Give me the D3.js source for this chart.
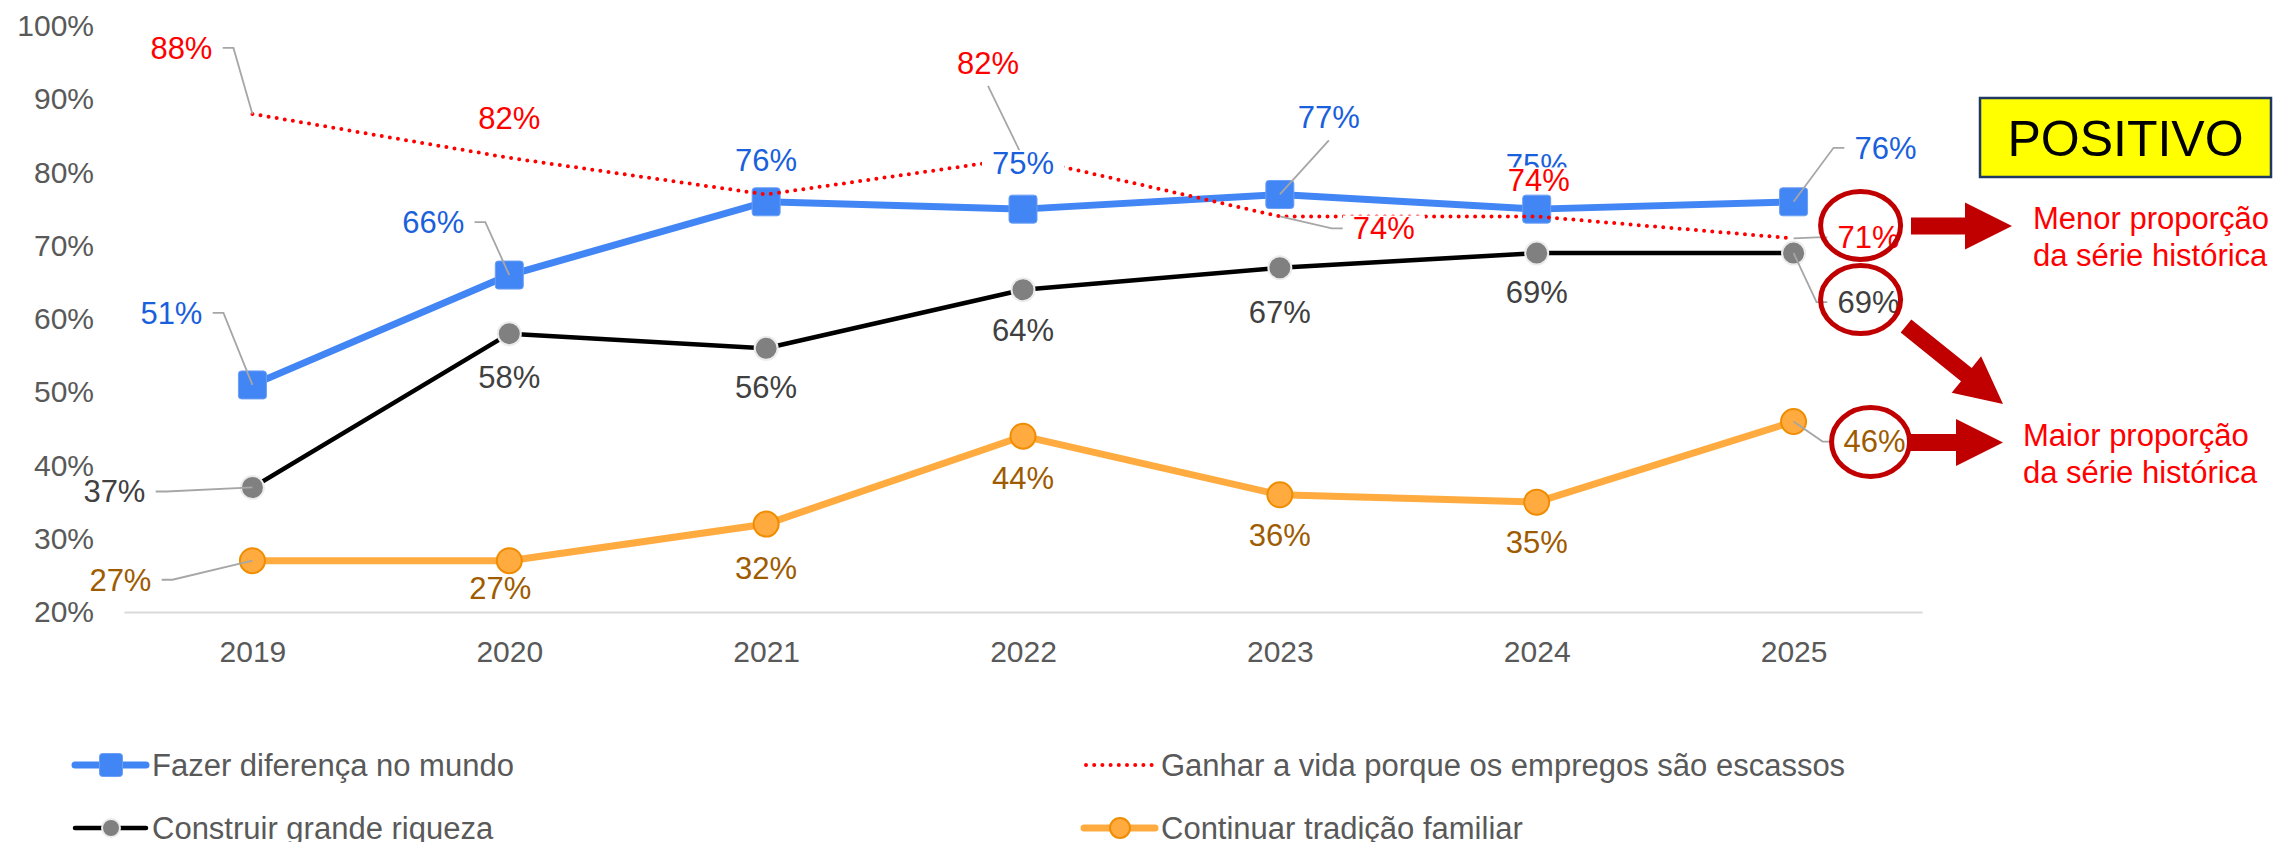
<!DOCTYPE html>
<html>
<head>
<meta charset="utf-8">
<script src="https://cdn.jsdelivr.net/npm/d3@7"></script>
<style>
  body { margin: 0; background: #fff; }
  svg { display: block; font-family: "Liberation Sans", Arial, sans-serif; }
</style>
</head>
<body>
<svg id="chart"></svg>
<script>
/* Data */
const years = ["2019", "2020", "2021", "2022", "2023", "2024", "2025"]
const fazerDiferenca = [51, 66, 76, 75, 77, 75, 76]
const ganharVida = [88, 82, 77, 82, 74, 74, 71]
const construirRiqueza = [37, 58, 56, 64, 67, 69, 69]
const continuarTradicao = [27, 27, 32, 44, 36, 35, 46]
const yTicks = [20, 30, 40, 50, 60, 70, 80, 90, 100]
const seriesNames = [
  "Fazer diferença no mundo",
  "Ganhar a vida porque os empregos são escassos",
  "Construir grande riqueza",
  "Continuar tradição familiar"
]
/* Unlabelled point in 2021 for the red series */
const ganharLabelShown = [true, true, false, true, true, true, true]

/* Label placement: offset from the point and leader line side */
const blueLabelPos = [[-81, -72, "L"], [-76, -53, "L"], [0, -42], [0, -46], [49, -77, "B"], [0, -44], [92, -54, "R"]]
const redLabelPos = [[-71, -66, "L"], [0, -40], [0, 0], [-35, -95, "B"], [104, 12, "R"], [2, -36], [75, -1, "R"]]
const blackLabelPos = [[-138, 4, "L"], [0, 43], [0, 39], [0, 40], [0, 44], [0, 39], [75, 49, "R"]]
const orangeLabelPos = [[-132, 19, "L"], [-9, 27], [0, 44], [0, 42], [0, 40], [0, 40], [81, 20, "R"]]

const width = 2279, height = 842

const svg = d3.select("#chart")
  .attr("width", width)
  .attr("height", height)

const x = d3.scalePoint().domain(years).range([124, 1922]).padding(0.5)
const y = d3.scaleLinear().domain([20, 100]).range([612, 26])

/* Axes */
const yAxis = svg.append("g")
  .attr("transform", "translate(94,0)")
  .call(d3.axisLeft(y).tickValues(yTicks).tickFormat(d => d + "%").tickSize(0).tickPadding(0))
yAxis.select(".domain").remove()
yAxis.selectAll("text").attr("fill", "#595959").style("font-size", "30px")

const xAxis = svg.append("g")
  .attr("transform", "translate(0,612)")
  .call(d3.axisBottom(x).tickSize(0).tickSizeOuter(0).tickPadding(29))
xAxis.select(".domain").attr("stroke", "#d9d9d9").attr("stroke-width", 2)
xAxis.selectAll("text").attr("fill", "#595959").style("font-size", "30px")

/* Series definitions */
const series = [
  { name: seriesNames[0], values: fazerDiferenca, color: "#4285f4", width: 7, marker: "square",
    labelColor: "#1a5fdc", pos: blueLabelPos },
  { name: seriesNames[1], values: ganharVida, color: "#ff0000", width: 4, marker: "none", dotted: true,
    labelColor: "#ff0000", pos: redLabelPos, shown: ganharLabelShown },
  { name: seriesNames[2], values: construirRiqueza, color: "#000000", width: 4.5, marker: "gray",
    labelColor: "#404040", pos: blackLabelPos },
  { name: seriesNames[3], values: continuarTradicao, color: "#ffab40", width: 7, marker: "orange",
    labelColor: "#9e5b00", pos: orangeLabelPos }
]

const line = d3.line()
  .x((d, i) => x(years[i]))
  .y(d => y(d))

function drawMarker(g, type, cx, cy, size) {
  if (type === "square") {
    g.append("rect")
      .attr("x", cx - size / 2).attr("y", cy - size / 2)
      .attr("width", size).attr("height", size)
      .attr("rx", 3)
      .attr("fill", "#4285f4").attr("stroke", "#6b9ff5").attr("stroke-width", 1)
  } else if (type === "gray") {
    g.append("circle")
      .attr("cx", cx).attr("cy", cy).attr("r", size / 2)
      .attr("fill", "#808080").attr("stroke", "#ececec").attr("stroke-width", 2)
  } else if (type === "orange") {
    g.append("circle")
      .attr("cx", cx).attr("cy", cy).attr("r", size / 2)
      .attr("fill", "#ffab40").attr("stroke", "#f08c00").attr("stroke-width", 2)
  }
}

const markerSize = { square: 28, gray: 23, orange: 25 }

/* Lines and markers: blue, black, orange, then dotted red on top */
const plot = svg.append("g")
;[0, 2, 3, 1].forEach(si => {
  const s = series[si]
  const path = plot.append("path")
    .datum(s.values)
    .attr("d", line)
    .attr("fill", "none")
    .attr("stroke", s.color)
    .attr("stroke-width", s.width)
    .attr("stroke-linejoin", "round")
  if (s.dotted) {
    path.attr("stroke-dasharray", "0 8.2").attr("stroke-linecap", "round")
  }
  s.values.forEach((v, i) => drawMarker(plot, s.marker, x(years[i]), y(v), markerSize[s.marker]))
})

/* Data labels with leader lines */
const leaders = svg.append("g")
const labels = svg.append("g")

series.forEach(s => {
  s.values.forEach((v, i) => {
    if (s.shown && !s.shown[i]) return
    const p = s.pos[i]
    const px = x(years[i]), py = y(v)
    const lx = px + p[0], ly = py + p[1]

    const g = labels.append("g")
    const box = g.append("rect").attr("fill", "#fff")
    const t = g.append("text")
      .attr("x", lx).attr("y", ly).attr("dy", "0.35em")
      .attr("text-anchor", "middle")
      .attr("fill", s.labelColor)
      .style("font-size", "31px")
      .text(v + "%")
    const w = t.node().getComputedTextLength()
    box.attr("x", lx - w / 2 - 10).attr("y", ly - 13)
      .attr("width", w + 20).attr("height", 26)

    let pts = null
    if (p[2] === "L") {
      const e = lx + w / 2
      pts = [[e + 10, ly], [e + 21, ly], [px, py]]
    } else if (p[2] === "R") {
      const e = lx - w / 2
      pts = [[e - 10, ly], [e - 21, ly], [px, py]]
    } else if (p[2] === "B") {
      pts = [[lx, ly + 23], [px, py]]
    }
    if (pts) {
      leaders.append("path")
        .attr("d", d3.line()(pts))
        .attr("fill", "none")
        .attr("stroke", "#a6a6a6")
        .attr("stroke-width", 1.8)
    }
  })
})

/* Annotations: circles around 2025 labels and arrows */
const notes = svg.append("g")
const last = years[years.length - 1]
const rings = [
  { v: ganharVida[6], dx: 67, dy: -13, rx: 40, ry: 34 },
  { v: construirRiqueza[6], dx: 67, dy: 46.5, rx: 40, ry: 34 },
  { v: continuarTradicao[6], dx: 77, dy: 20.5, rx: 39, ry: 34.5 }
]
rings.forEach(r => {
  notes.append("ellipse")
    .attr("cx", x(last) + r.dx).attr("cy", y(r.v) + r.dy)
    .attr("rx", r.rx).attr("ry", r.ry)
    .attr("fill", "none")
    .attr("stroke", "#c00000")
    .attr("stroke-width", 5)
})

function arrow(x0, y0, x1, y1) {
  const ang = Math.atan2(y1 - y0, x1 - x0) * 180 / Math.PI
  const len = Math.hypot(x1 - x0, y1 - y0)
  const sw = 8.5, hw = 23.5, hl = 47
  const pts = [[0, -sw], [len - hl, -sw], [len - hl, -hw], [len, 0], [len - hl, hw], [len - hl, sw], [0, sw]]
  notes.append("polygon")
    .attr("points", pts.map(q => q.join(",")).join(" "))
    .attr("transform", "translate(" + x0 + "," + y0 + ") rotate(" + ang + ")")
    .attr("fill", "#c00000")
}
arrow(1911, 226, 2012, 226)
arrow(1906, 326, 2003, 404)
arrow(1908, 442.5, 2003, 442.5)

/* POSITIVO box */
notes.append("rect")
  .attr("x", 1980).attr("y", 98)
  .attr("width", 291).attr("height", 79)
  .attr("fill", "#ffff00")
  .attr("stroke", "#1f3864")
  .attr("stroke-width", 2.5)
notes.append("text")
  .attr("x", 2125.5).attr("y", 156)
  .attr("text-anchor", "middle")
  .attr("fill", "#000")
  .style("font-size", "50px")
  .text("POSITIVO")

const sideNotes = [
  { x: 2033, y: 229, lines: ["Menor proporção", "da série histórica"] },
  { x: 2023, y: 446, lines: ["Maior proporção", "da série histórica"] }
]
sideNotes.forEach(n => {
  const t = notes.append("text")
    .attr("fill", "#ff0000")
    .style("font-size", "31px")
  n.lines.forEach((l, k) => {
    t.append("tspan").attr("x", n.x).attr("y", n.y + k * 37).text(l)
  })
})

/* Legend */
const legend = svg.append("g")
const legendCols = [75, 1084], legendRows = [765, 828]
series.forEach((s, i) => {
  const lx = legendCols[i % 2], ly = legendRows[Math.floor(i / 2)]
  const g = legend.append("g")
  const sym = g.append("line")
    .attr("x1", lx).attr("x2", lx + 71)
    .attr("y1", ly).attr("y2", ly)
    .attr("stroke", s.color)
    .attr("stroke-width", s.width)
    .attr("stroke-linecap", "round")
  if (s.dotted) sym.attr("stroke-dasharray", "0 8.2").attr("x1", lx + 2).attr("x2", lx + 69)
  const legendSize = { square: 23, gray: 18, orange: 20 }
  drawMarker(g, s.marker, lx + 36, ly, legendSize[s.marker])
  g.append("text")
    .attr("x", lx + 77).attr("y", ly).attr("dy", "0.35em")
    .attr("fill", "#595959")
    .style("font-size", "31px")
    .text(s.name)
})
</script>
</body>
</html>
